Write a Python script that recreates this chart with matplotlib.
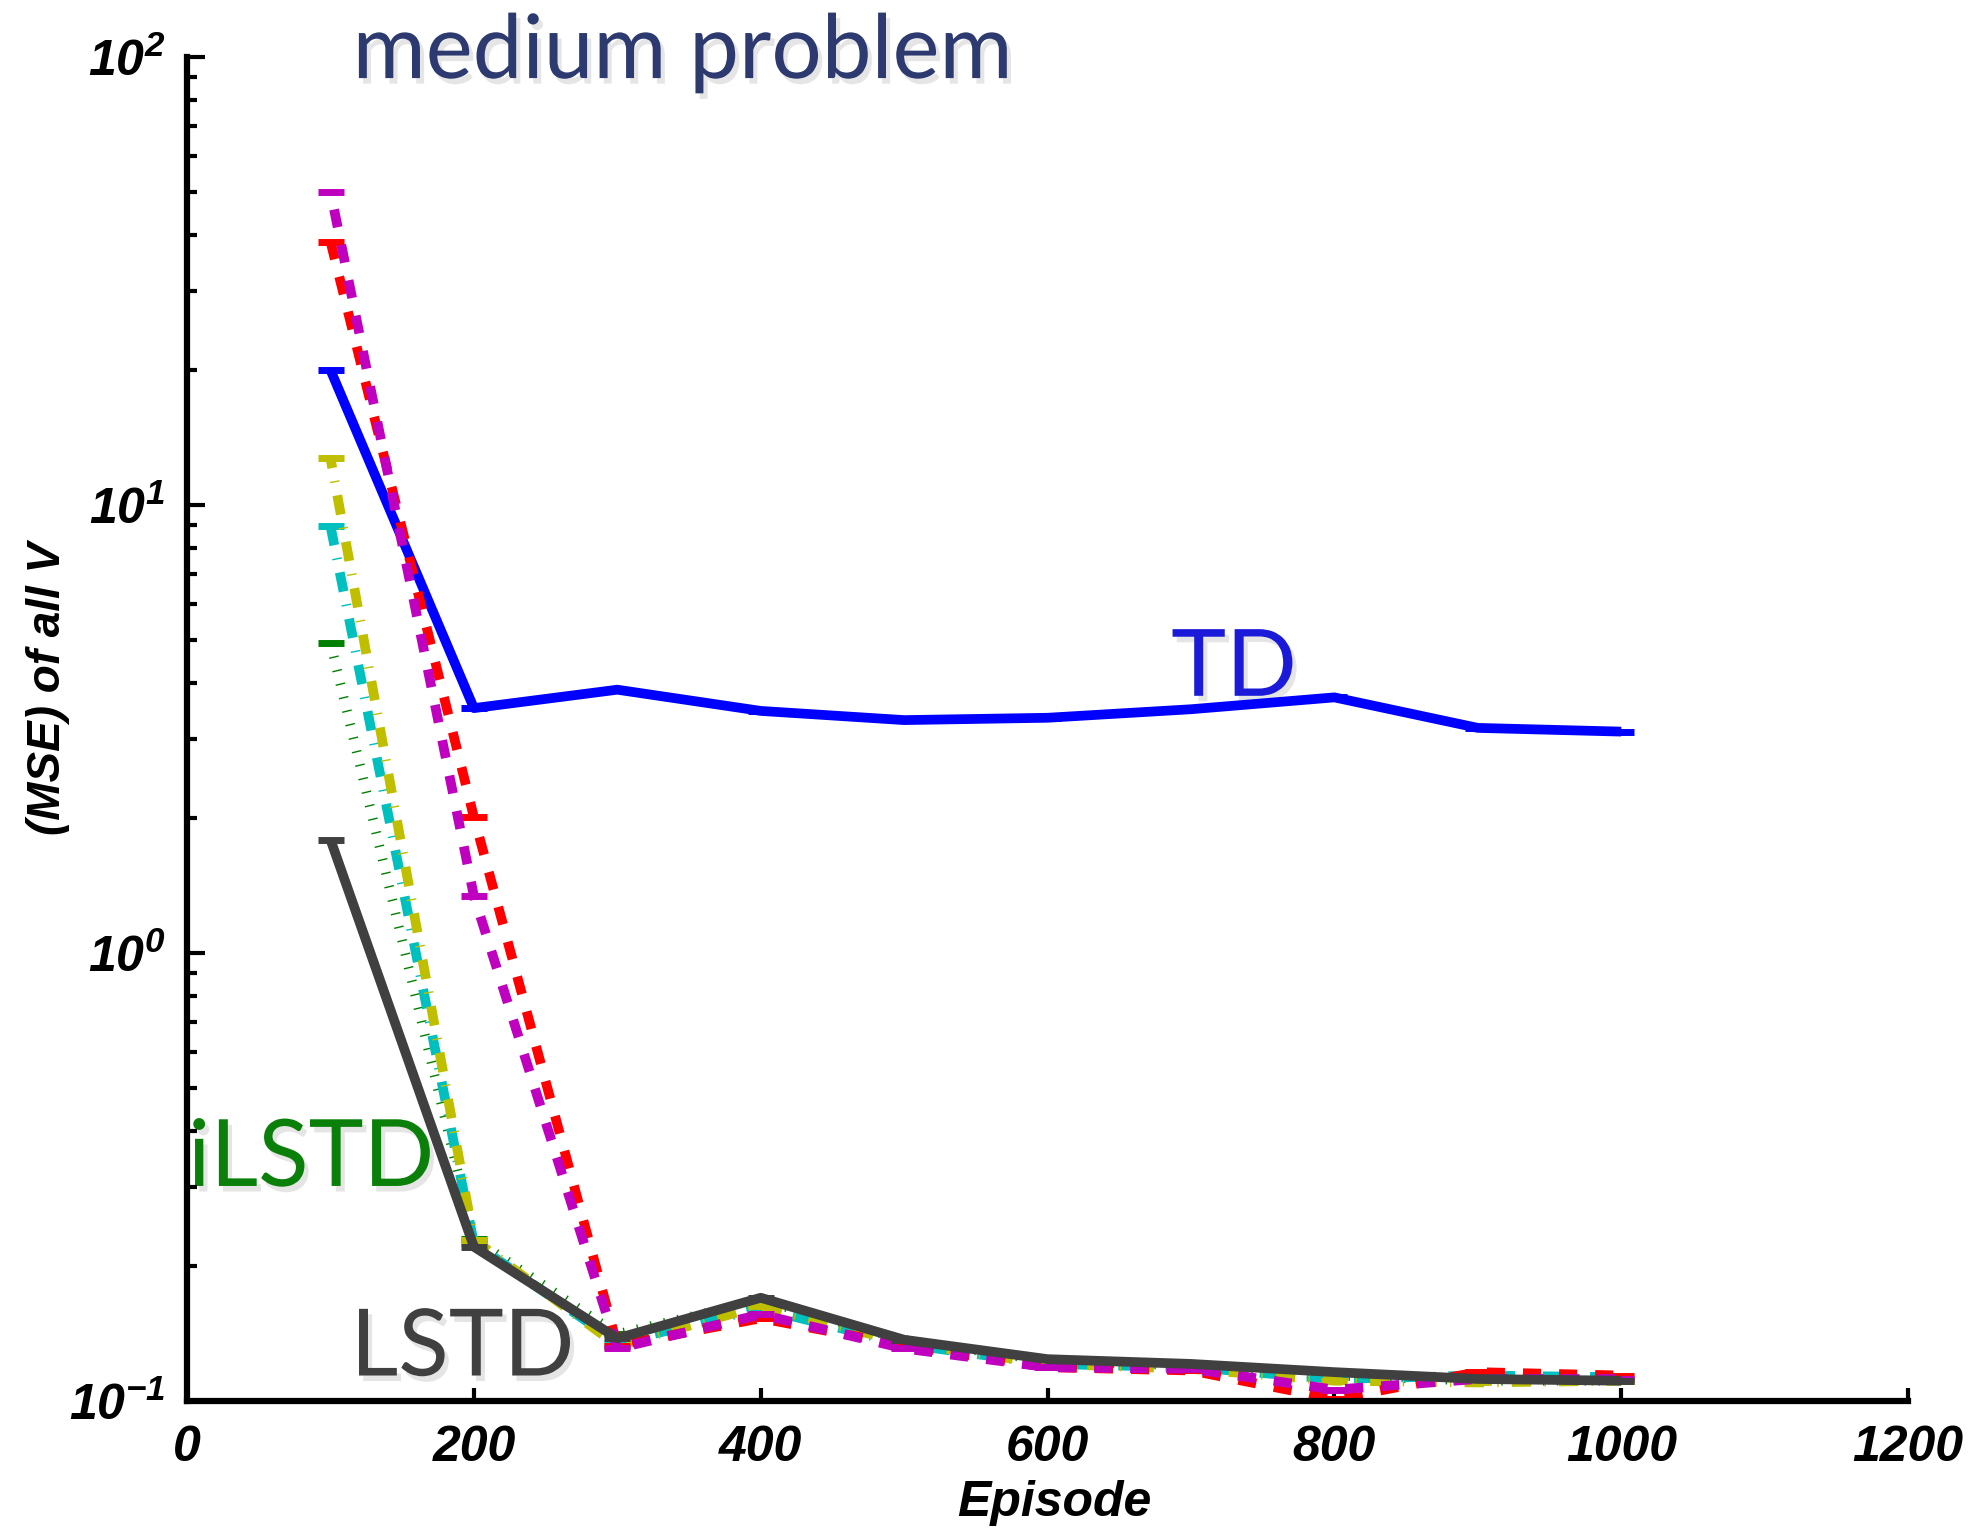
import matplotlib
matplotlib.use('Agg')
import matplotlib.pyplot as plt
import matplotlib.patheffects as pe
from matplotlib.ticker import LogLocator, MultipleLocator, NullFormatter

episodes = [100, 200, 300, 400, 500, 600, 700, 800, 900, 1000]

mse_td = [20.0, 3.52, 3.87, 3.47, 3.31, 3.35, 3.50, 3.72, 3.18, 3.12]
mse_green = [4.92, 0.230, 0.141, 0.168, 0.137, 0.123, 0.120, 0.114, 0.111, 0.111]
mse_cyan = [8.97, 0.225, 0.135, 0.161, 0.134, 0.121, 0.119, 0.112, 0.114, 0.113]
mse_yellow = [12.7, 0.229, 0.133, 0.163, 0.135, 0.121, 0.118, 0.111, 0.110, 0.111]
mse_red = [38.7, 2.01, 0.133, 0.153, 0.133, 0.119, 0.117, 0.101, 0.116, 0.114]
mse_magenta = [50.0, 1.34, 0.131, 0.156, 0.131, 0.119, 0.118, 0.106, 0.112, 0.112]
mse_lstd = [1.79, 0.221, 0.138, 0.170, 0.137, 0.124, 0.121, 0.116, 0.112, 0.111]

plt.rcParams['lines.scale_dashes'] = False
plt.rcParams['font.family'] = 'Liberation Sans'


def main():
    fig = plt.figure(figsize=(19.84, 15.31), dpi=100)
    ax = fig.add_axes([0.0943, 0.0849, 0.8674, 0.8779])

    lw = 7
    mk = dict(marker='_', markersize=19, markeredgewidth=5)
    # (values, colour, dash pattern in points, None = solid)
    series = [
        (mse_td, '#0000ff', None),
        (mse_green, '#008000', (0, (1.0, 9.0))),
        (mse_cyan, '#00bfbf', (0, (14.0, 9.5, 1.0, 9.5))),
        (mse_yellow, '#bfbf00', (7, (14.0, 9.5, 1.0, 9.5))),
        (mse_red, '#ff0000', (0, (13.0, 13.0))),
        (mse_magenta, '#bf00bf', (13, (13.0, 13.0))),
        (mse_lstd, '#404040', None),
    ]
    for vals, color, ls in series:
        if ls is None:
            ax.plot(episodes, vals, color=color, linewidth=lw, solid_capstyle='butt',
                    markeredgecolor=color, **mk)
        else:
            ax.plot(episodes, vals, color=color, linewidth=lw, linestyle=ls,
                    dash_capstyle='butt', markeredgecolor=color, **mk)

    ax.set_yscale('log')
    ax.set_xlim(0, 1200)
    ax.set_ylim(0.1, 100)
    ax.xaxis.set_major_locator(MultipleLocator(200))
    ax.yaxis.set_major_locator(LogLocator(base=10))
    ax.yaxis.set_minor_locator(LogLocator(base=10, subs=range(2, 10)))
    ax.yaxis.set_minor_formatter(NullFormatter())

    for side in ('top', 'right'):
        ax.spines[side].set_visible(False)
    for side in ('left', 'bottom'):
        ax.spines[side].set_linewidth(4.5)

    ax.tick_params(axis='x', which='major', direction='in', length=9.5, width=3, pad=17)
    ax.tick_params(axis='y', which='major', direction='in', length=13, width=3, pad=16)
    ax.tick_params(axis='y', which='minor', direction='in', length=7, width=3)
    for lab in ax.get_xticklabels() + ax.get_yticklabels():
        lab.set_fontsize(36)
        lab.set_fontweight('bold')
        lab.set_fontstyle('italic')

    ax.set_xlabel('Episode', fontsize=36, fontweight='bold', fontstyle='italic')
    ax.xaxis.set_label_coords(0.504, -0.059)
    ax.set_ylabel('(MSE) of all V', fontsize=33, fontweight='bold', fontstyle='italic')
    ax.yaxis.set_label_coords(-0.068, 0.53)

    shadow = [pe.SimplePatchShadow(offset=(3, -4), shadow_rgbFace='#999999', alpha=0.25), pe.Normal()]
    ax.text(730, 3.75, 'TD', color='#1a1ad8', fontsize=67, family='Lato',
            ha='center', va='baseline', zorder=1.5, path_effects=shadow)
    ax.text(86.5, 0.302, 'iLSTD', color='#0a800a', fontsize=67, family='Lato',
            ha='center', va='baseline', zorder=1.5, path_effects=shadow)
    ax.text(192, 0.114, 'LSTD', color='#404040', fontsize=67, family='Lato',
            ha='center', va='baseline', zorder=1.5, path_effects=shadow)

    fig.text(0.344, 0.949, 'medium problem', color='#2c3a70', fontsize=64, family='Lato',
             ha='center', va='baseline', path_effects=shadow)

    plt.savefig('out.png', dpi=100)


if __name__ == '__main__':
    main()
